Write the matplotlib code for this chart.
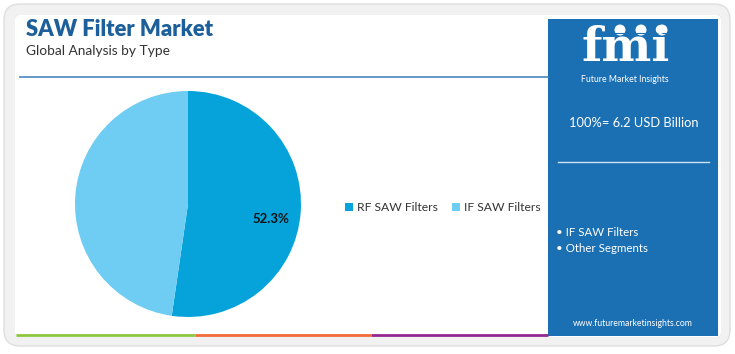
import matplotlib
matplotlib.use("Agg")
import matplotlib.pyplot as plt
from matplotlib.patches import FancyBboxPatch, Rectangle, Circle

plt.rcParams["font.family"] = ["Lato", "DejaVu Sans"]

# data
segments = ["RF SAW Filters", "IF SAW Filters"]
shares = [52.3, 47.7]
seg_colors = ["#05a3da", "#6fcdf3"]
title = "SAW Filter Market"
subtitle = "Global Analysis by Type"
total_text = "100%= 6.2 USD Billion"
side_items = ["IF SAW Filters", "Other Segments"]

W, H = 735, 354
fig = plt.figure(figsize=(W / 100, H / 100), dpi=100)
fig.patch.set_facecolor("white")

# full-figure canvas in pixel coords
bg = fig.add_axes([0, 0, 1, 1])
bg.set_xlim(0, W)
bg.set_ylim(H, 0)
bg.axis("off")

bg.add_patch(FancyBboxPatch((4, 4), 726, 342, boxstyle="round,pad=0,rounding_size=16",
                            facecolor="#f1f1f1", edgecolor="#dedede", lw=1.0))
bg.add_patch(FancyBboxPatch((15, 15), 706, 322, boxstyle="round,pad=0,rounding_size=6",
                            facecolor="white", edgecolor="none"))

# right panel
bg.add_patch(Rectangle((548, 19), 170, 317, facecolor="#1b6fb3", edgecolor="none"))

# title block
bg.text(26, 29, title, fontsize=15.8, fontweight="heavy", color="#1d5f9a", va="center", ha="left")
bg.text(26, 51, subtitle, fontsize=9.9, color="#333333", va="center", ha="left")
bg.plot([20, 548], [77, 77], color="#4a86c0", lw=1.2)

# bottom coloured strips
for x0, x1, c in [(16, 195, "#8cc63f"), (195, 371, "#f26a3a"), (371, 548, "#93278f")]:
    bg.plot([x0, x1], [334.5, 334.5], color=c, lw=2.0, solid_capstyle="butt")

# fmi logo (approximation)
bg.text(626, 48, "fmi", fontsize=34, fontweight="bold", family="DejaVu Serif",
        color="white", ha="center", va="center")
for yy in range(33, 70, 4):
    bg.plot([572, 685], [yy, yy], color="#1b6fb3", lw=0.8)
for cx in (620, 641, 662):
    bg.add_patch(Circle((cx, 30), 5.5, facecolor="white", edgecolor="none"))
bg.text(625, 79, "Future Market Insights", fontsize=6.3, color="white", ha="center", va="center")

bg.text(634, 123, total_text, fontsize=9.3, color="white", ha="center", va="center")
bg.plot([558, 709], [162, 162], color="#cfe3f4", lw=1.0)
for i, item in enumerate(side_items):
    bg.text(556, 232 + i * 16, "\u2022 " + item, fontsize=8.3, color="white", ha="left", va="center")
bg.text(633, 324, "www.futuremarketinsights.com", fontsize=6.2, color="white", ha="center", va="center")

# legend
lx = [345, 452]
for x, lab, c in zip(lx, segments, seg_colors):
    bg.add_patch(Rectangle((x, 203), 8, 8, facecolor=c, edgecolor="none"))
    bg.text(x + 12, 207.5, lab, fontsize=8.7, color="#333333", ha="left", va="center")

# pie
cx, cy, r = 188, 204, 113
pax = fig.add_axes([(cx - r) / W, (H - cy - r) / H, 2 * r / W, 2 * r / H])
wedges, texts, autotexts = pax.pie(
    shares, colors=seg_colors, startangle=90, counterclock=False,
    autopct=lambda p: f"{p:.1f}%" if p > 50 else "", pctdistance=0.74,
    wedgeprops=dict(linewidth=0),
    textprops=dict(fontsize=9.5, fontweight="bold", color="#111111"),
)
autotexts[0].set_position((0.73, -0.13))
pax.set_xlim(-1, 1)
pax.set_ylim(-1, 1)
pax.set_aspect("equal")
pax.axis("off")

fig.savefig("out.png", dpi=100)
